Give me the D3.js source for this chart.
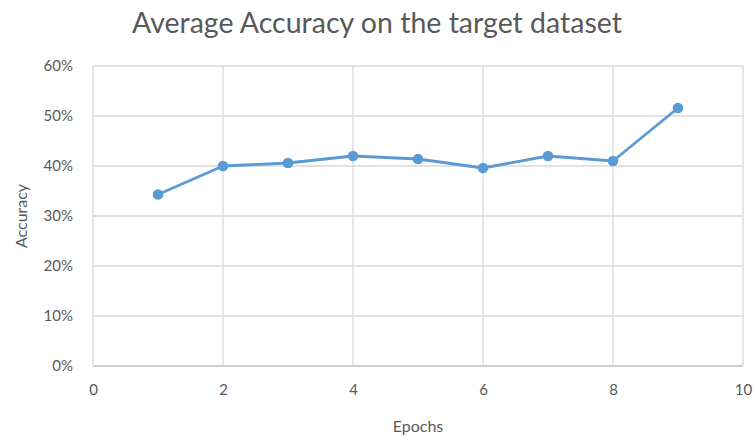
<!DOCTYPE html>
<html>
<head>
<meta charset="utf-8">
<script src="https://cdn.jsdelivr.net/npm/d3@7"></script>
<style>
  body { margin: 0; background: #fff; }
  text { font-family: Lato, "Open Sans", sans-serif; fill: #595959; }
</style>
</head>
<body>
<div id="chart"></div>
<script>
const width = 754;
const height = 437;

const epochs = [1, 2, 3, 4, 5, 6, 7, 8, 9];
const accuracy = [0.343, 0.400, 0.406, 0.420, 0.414, 0.396, 0.420, 0.410, 0.516];
const xTicks = [0, 2, 4, 6, 8, 10];
const yTicks = [0, 0.1, 0.2, 0.3, 0.4, 0.5, 0.6];

const margin = { top: 66, right: 11, bottom: 71, left: 93 };

const x = d3.scaleLinear().domain([0, 10]).range([margin.left, width - margin.right]);
const y = d3.scaleLinear().domain([0, 0.6]).range([height - margin.bottom, margin.top]);

const svg = d3.select("#chart")
    .append("svg")
    .attr("width", width)
    .attr("height", height);

// gridlines
svg.append("g")
    .selectAll("line")
    .data(yTicks)
    .enter()
    .append("line")
    .attr("x1", x(0))
    .attr("x2", x(10))
    .attr("y1", d => y(d))
    .attr("y2", d => y(d))
    .attr("stroke", d => d === 0 ? "#bfbfbf" : "#d9d9d9")
    .attr("stroke-width", 1.3);

svg.append("g")
    .selectAll("line")
    .data(xTicks)
    .enter()
    .append("line")
    .attr("x1", d => x(d))
    .attr("x2", d => x(d))
    .attr("y1", y(0))
    .attr("y2", y(0.6))
    .attr("stroke", "#d9d9d9")
    .attr("stroke-width", 1.3);

// axes (labels only)
const xAxis = svg.append("g")
    .attr("transform", `translate(0,${y(0)})`)
    .call(d3.axisBottom(x).tickValues(xTicks).tickSize(0).tickPadding(18));
const yAxis = svg.append("g")
    .attr("transform", `translate(${x(0)},0)`)
    .call(d3.axisLeft(y).tickValues(yTicks).tickSize(0).tickPadding(20).tickFormat(d3.format(".0%")));

[xAxis, yAxis].forEach(a => {
    a.select(".domain").remove();
    a.selectAll("text")
        .attr("font-size", "15px")
        .attr("font-family", "Lato, Open Sans, sans-serif")
        .attr("fill", "#595959");
});

// line
const line = d3.line()
    .x((d, i) => x(epochs[i]))
    .y(d => y(d));

svg.append("path")
    .datum(accuracy)
    .attr("d", line)
    .attr("fill", "none")
    .attr("stroke", "#5b9bd5")
    .attr("stroke-width", 2.8)
    .attr("stroke-linejoin", "round");

svg.append("g")
    .selectAll("circle")
    .data(accuracy)
    .enter()
    .append("circle")
    .attr("cx", (d, i) => x(epochs[i]))
    .attr("cy", d => y(d))
    .attr("r", 5.3)
    .attr("fill", "#5b9bd5");

// titles
svg.append("text")
    .attr("x", 377)
    .attr("y", 33)
    .attr("text-anchor", "middle")
    .attr("font-size", "28.5px")
    .text("Average Accuracy on the target dataset");

svg.append("text")
    .attr("x", 418)
    .attr("y", 432)
    .attr("text-anchor", "middle")
    .attr("font-size", "16px")
    .text("Epochs");

svg.append("text")
    .attr("transform", "translate(27,216) rotate(-90)")
    .attr("text-anchor", "middle")
    .attr("font-size", "16px")
    .text("Accuracy");
</script>
</body>
</html>
